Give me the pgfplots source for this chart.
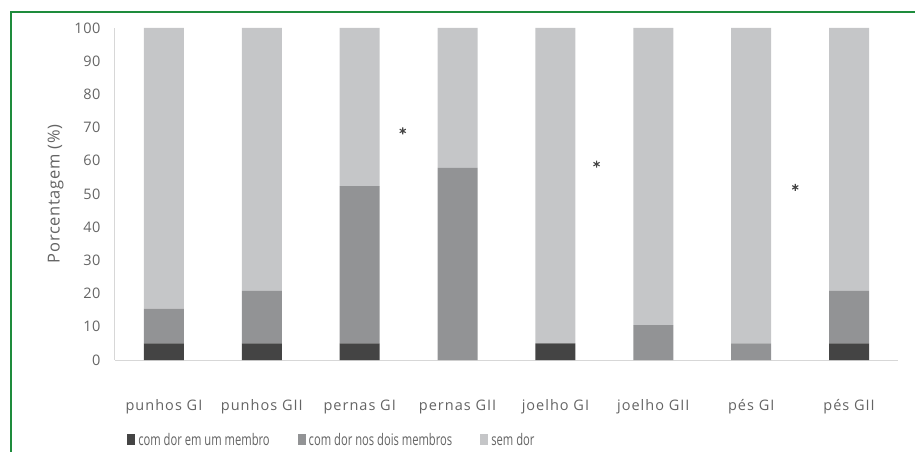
\documentclass[border=0pt]{standalone}
\usepackage{pgfplots}
\pgfplotsset{compat=1.18}
\usepackage{fontspec}
\setmainfont[LetterSpace=4]{Open Sans}
\newfontfamily\xfont[LetterSpace=7]{Open Sans}
\newfontfamily\legfont[FakeStretch=0.70]{Open Sans}
\definecolor{dark}{RGB}{68,68,68}
\definecolor{mid}{RGB}{146,147,149}
\definecolor{light}{RGB}{197,198,200}
\definecolor{txt}{RGB}{100,100,100}
\definecolor{frame}{RGB}{30,140,60}
\definecolor{axline}{RGB}{215,215,215}
\begin{document}
\begin{tikzpicture}
\path[use as bounding box] (-115pt,-92pt) rectangle (800pt,360pt);
\draw[frame, line width=1.2pt] (-104pt,-92pt) -- (-104pt,348pt) -- (800pt,348pt);
\begin{axis}[
    at={(0,0)}, anchor=south west,
    scale only axis,
    width=783pt, height=332pt,
    ybar stacked,
    bar width=40pt,
    xmin=-0.5, xmax=7.5,
    ymin=0, ymax=100,
    xtick=data,
    xticklabels={punhos GI, punhos GII, pernas GI, pernas GII, joelho GI, joelho GII, pés GI, pés GII},
    ytick={0,10,...,100},
    axis x line*=bottom, axis y line*=left,
    axis line style={axline, line width=1pt},
    x axis line style={-}, y axis line style={-},
    tick style={draw=none},
    ticklabel style={font=\fontsize{14.5}{16}\selectfont, text=txt},
    /pgf/number format/assume math mode=true,
    xticklabel style={font=\xfont\fontsize{14.5}{16}\selectfont, yshift=-36pt},
    yticklabel style={xshift=-11pt},
    ylabel={Porcentagem (\%)},
    ylabel style={font=\fontsize{16.5}{18}\selectfont, text=txt, yshift=4pt},
    legend style={draw=none, at={(0.277,-0.241)}, anchor=center,
        font=\legfont\fontsize{16}{18}\selectfont, text=txt, legend columns=-1,
        /tikz/every odd column/.append style={column sep=1pt},
        /tikz/every even column/.append style={column sep=26pt}},
    legend image code/.code={\fill[#1] (0pt,-4.5pt) rectangle (8pt,6pt);},
]
\addplot[fill=dark, draw=none] coordinates {(0,5) (1,5) (2,5) (3,0) (4,5) (5,0) (6,0) (7,5)};
\addplot[fill=mid, draw=none] coordinates {(0,10.5) (1,15.8) (2,47.4) (3,57.9) (4,0) (5,10.5) (6,5) (7,15.8)};
\addplot[fill=light, draw=none] coordinates {(0,84.5) (1,79.2) (2,47.6) (3,42.1) (4,95) (5,89.5) (6,95) (7,79.2)};
\legend{com dor em um membro, com dor nos dois membros, sem dor}
\end{axis}
\begin{axis}[
    at={(0,0)}, anchor=south west,
    scale only axis,
    width=783pt, height=332pt,
    xmin=-0.5, xmax=7.5, ymin=0, ymax=100,
    hide axis,
]
\addplot[only marks, mark=asterisk, mark size=3.5pt, dark, line width=1.1pt] coordinates {(2.44,69) (4.42,59) (6.45,52)};
\end{axis}
\end{tikzpicture}
\end{document}
